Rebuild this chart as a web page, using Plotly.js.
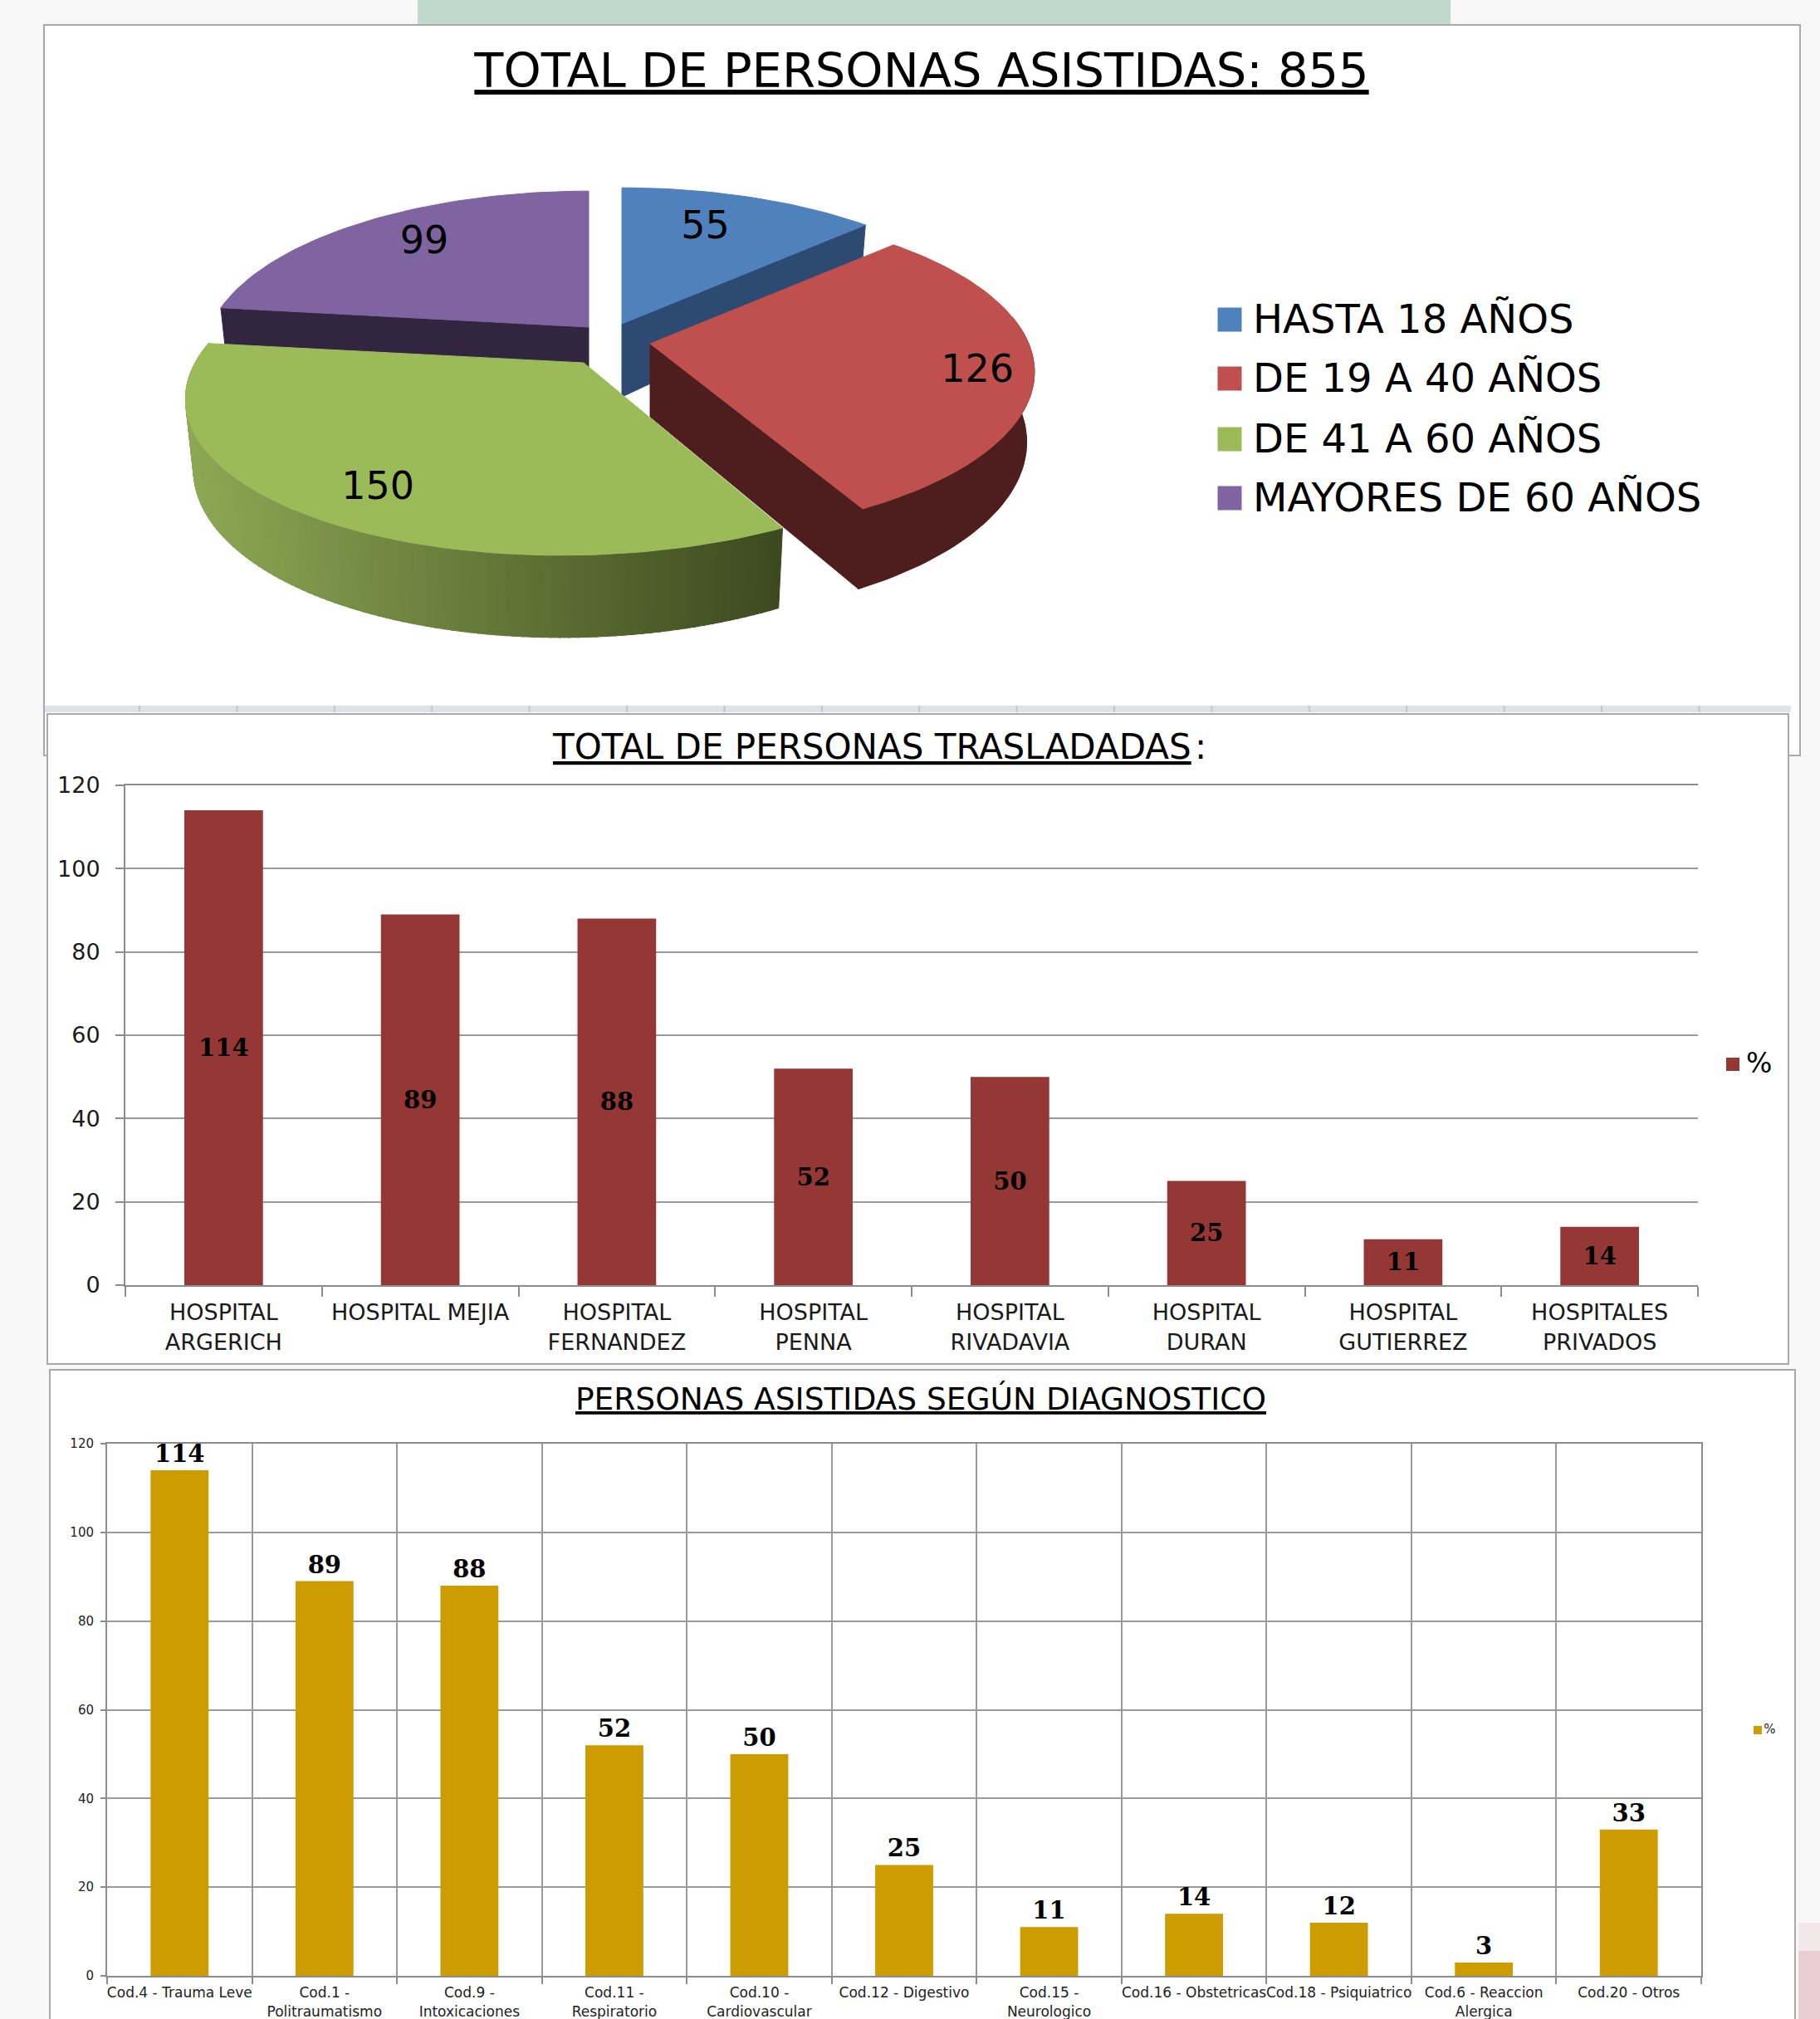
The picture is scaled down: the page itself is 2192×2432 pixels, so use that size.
<!DOCTYPE html>
<html>
<head>
<meta charset="utf-8">
<script src="https://cdn.plot.ly/plotly-3.0.1.min.js"></script>
<style>html,body{margin:0;padding:0;background:#f8f8f8}</style>
</head>
<body>
<div id="chart" style="width:2192px;height:2432px"></div>
<script>
// ---------- data ----------
const ageGroups = ['HASTA 18 AÑOS', 'DE 19 A 40 AÑOS', 'DE 41 A 60 AÑOS', 'MAYORES DE 60 AÑOS'];
const ageValues = [55, 126, 150, 99];
const hospitals = ['HOSPITAL<br>ARGERICH', 'HOSPITAL MEJIA', 'HOSPITAL<br>FERNANDEZ', 'HOSPITAL<br>PENNA',
  'HOSPITAL<br>RIVADAVIA', 'HOSPITAL<br>DURAN', 'HOSPITAL<br>GUTIERREZ', 'HOSPITALES<br>PRIVADOS'];
const hospitalValues = [114, 89, 88, 52, 50, 25, 11, 14];
const diagnoses = ['Cod.4 - Trauma Leve', 'Cod.1 -<br>Politraumatismo', 'Cod.9 -<br>Intoxicaciones', 'Cod.11 -<br>Respiratorio',
  'Cod.10 -<br>Cardiovascular', 'Cod.12 - Digestivo', 'Cod.15 -<br>Neurologico', 'Cod.16 - Obstetricas', 'Cod.18 - Psiquiatrico',
  'Cod.6 - Reaccion<br>Alergica', 'Cod.20 - Otros'];
const diagnosisValues = [114, 89, 88, 52, 50, 25, 11, 14, 12, 3, 33];
const yTicks = [0, 20, 40, 60, 80, 100, 120];

// ---------- page geometry ----------
const W = 2192, H = 2432;
const px = x => x / W, py = y => 1 - y / H;

// ---------- perspective pie geometry ----------
const pieColors = ['#4f81bd', '#c0504d', '#9bbb59', '#8064a2'];
const faceColors = ['#2c4a72', '#4e1d1d', null, '#32253f'];
const apexes = [[749, 390], [783, 414], [703, 437], [709, 394]];
const radii = [456, 456, 468, 456];
const shear = [0, 0, 22.5, 0];
const labelRadius = [0.66, 0.84, 0.83, 0.74];
const labelShift = [[-6, -9], [7, 9], [18, 3], [6, -3]];
const Ry = 192, persp = 0.172, depth = 82, apexDepth = 88, baseScale = 0.98;
const total = ageValues.reduce((a, b) => a + b, 0);
const bounds = [0];
ageValues.forEach(v => bounds.push(bounds[bounds.length - 1] + v / total * 360));

function project(i, deg, r) {
  const t = deg * Math.PI / 180, u = Math.sin(t) * r, v = Math.cos(t) * r, d = 1 + persp * v;
  return [apexes[i][0] + (radii[i] * u + shear[i] * v) / d, apexes[i][1] - Ry * v / d, depth / d];
}
function arc(i, a, b) {
  const pts = [], n = Math.max(2, Math.ceil(Math.abs(b - a) / 1.5));
  for (let k = 0; k <= n; k++) pts.push(project(i, a + (b - a) * k / n, 1));
  return pts;
}
const baseX = (i, x) => apexes[i][0] + (x - apexes[i][0]) * baseScale;
const poly = (xs, ys, color) => ({
  type: 'scatter', mode: 'lines', x: xs, y: ys, xaxis: 'x3', yaxis: 'y3', fill: 'toself', fillcolor: color,
  line: {color: color, width: 1}, showlegend: false, hoverinfo: 'skip'
});
function topTrace(i) {
  const a = arc(i, bounds[i], bounds[i + 1]), o = apexes[i];
  return poly([o[0], ...a.map(p => p[0]), o[0]], [o[1], ...a.map(p => p[1]), o[1]], pieColors[i]);
}
function faceTrace(i, deg) {
  const e = project(i, deg, 1), o = apexes[i];
  return poly([o[0], e[0], baseX(i, e[0]), o[0], o[0]], [o[1], e[1], e[1] + e[2], o[1] + apexDepth, o[1]], faceColors[i]);
}
function wallTrace(i, a, b, color) {
  const p = arc(i, a, b), r = p.slice().reverse();
  return poly([...p.map(q => q[0]), ...r.map(q => baseX(i, q[0])), p[0][0]],
              [...p.map(q => q[1]), ...r.map(q => q[1] + q[2]), p[0][1]], color);
}
function mix(c1, c2, f) {
  return 'rgb(' + c1.map((c, k) => Math.round(c + (c2[k] - c) * f)).join(',') + ')';
}
const pieTraces = [];
pieTraces.push(faceTrace(3, bounds[3]), topTrace(3));
pieTraces.push(faceTrace(0, bounds[1]), topTrace(0));
pieTraces.push(wallTrace(1, 80, bounds[2], faceColors[1]), faceTrace(1, bounds[2]), topTrace(1));
const steps = 110, gLeft = [141, 168, 84], gRight = [61, 74, 31];
for (let s = 0; s < steps; s++) {
  const a = bounds[2] + (bounds[3] - bounds[2]) * s / steps;
  const b = bounds[2] + (bounds[3] - bounds[2]) * (s + 1) / steps + 0.3;
  const xm = project(2, a, 1)[0];
  const f = Math.max(0, Math.min(1, (xm - 226) / (943 - 226)));
  pieTraces.push(wallTrace(2, a, b, mix(gLeft, gRight, f)));
}
pieTraces.push(topTrace(2));

// slice value labels
const lab = ageValues.map((v, i) => project(i, (bounds[i] + bounds[i + 1]) / 2, labelRadius[i]));
pieTraces.push({
  type: 'scatter', mode: 'text', x: lab.map((p, i) => p[0] + labelShift[i][0]), y: lab.map((p, i) => p[1] + labelShift[i][1]),
  text: ageValues.map(String), textposition: 'middle center', textfont: {family: 'DejaVu Sans', size: 46, color: '#000'},
  xaxis: 'x3', yaxis: 'y3', showlegend: false, hoverinfo: 'skip'
});

// legends
const legendYs = [385, 456, 529, 600];
const legendTextYs = [389, 460, 533, 604];
const legendTraces = [
  {type: 'scatter', mode: 'markers', x: ageGroups.map(() => 1481), y: legendYs,
   marker: {symbol: 'square', size: 29, color: pieColors}, xaxis: 'x3', yaxis: 'y3', showlegend: false, hoverinfo: 'skip'},
  {type: 'scatter', mode: 'text', x: ageGroups.map(() => 1509), y: legendTextYs, text: ageGroups, textposition: 'middle right',
   textfont: {family: 'DejaVu Sans', size: 48, color: '#000'}, xaxis: 'x3', yaxis: 'y3', showlegend: false, hoverinfo: 'skip'},
  {type: 'scatter', mode: 'markers', x: [2087], y: [1282], marker: {symbol: 'square', size: 16, color: '#953735'},
   xaxis: 'x3', yaxis: 'y3', showlegend: false, hoverinfo: 'skip'},
  {type: 'scatter', mode: 'text', x: [2103], y: [1284], text: ['%'], textposition: 'middle right',
   textfont: {family: 'DejaVu Sans', size: 33, color: '#000'}, xaxis: 'x3', yaxis: 'y3', showlegend: false, hoverinfo: 'skip'},
  {type: 'scatter', mode: 'markers+text', x: [2117], y: [2084], text: ['%'], textposition: 'middle right',
   marker: {symbol: 'square', size: 10, color: '#cc9c00'}, textfont: {family: 'DejaVu Sans', size: 15, color: '#222'},
   xaxis: 'x3', yaxis: 'y3', showlegend: false, hoverinfo: 'skip'}
];

// ---------- bar charts ----------
const barLabelFont = {family: 'DejaVu Serif', size: 29, color: '#000', weight: 700};
const barHospital = {
  type: 'bar', x: hospitals, y: hospitalValues, text: hospitalValues.map(String), textposition: 'inside',
  insidetextanchor: 'middle', textangle: 0, constraintext: 'none', textfont: barLabelFont,
  marker: {color: '#953735'}, xaxis: 'x', yaxis: 'y', showlegend: false, hoverinfo: 'skip'
};
const barDiagnosis = {
  type: 'bar', x: diagnoses, y: diagnosisValues, text: diagnosisValues.map(String), textposition: 'outside',
  textangle: 0, constraintext: 'none', cliponaxis: false, textfont: barLabelFont,
  marker: {color: '#cc9c00'}, xaxis: 'x2', yaxis: 'y2', showlegend: false, hoverinfo: 'skip'
};

// ---------- panels ----------
const border = '#a9a9a9';
const rect = (x0, y0, x1, y1, fill, line) => ({
  type: 'rect', xref: 'paper', yref: 'paper', layer: 'below',
  x0: px(x0), x1: px(x1), y0: py(y0), y1: py(y1), fillcolor: fill,
  line: line ? {color: line, width: 2} : {width: 0}
});
const shapes = [
  rect(503, 0, 1747, 30, '#c1d9cc'),
  rect(2166, 2316, 2192, 2350, '#f3e8e9'),
  rect(2166, 2350, 2192, 2432, '#e9cfd3'),
  rect(53, 30, 2168, 910, '#ffffff', border),
  rect(54, 850, 2157, 858, '#dfe3e8'),
  rect(57, 860, 2154, 1643, '#ffffff', border),
  rect(60, 1650, 2162, 2450, '#ffffff', border)
];
for (let x = 168; x < 2157; x += 117.4) shapes.push(rect(x - 1, 850, x + 1, 858, '#c2c6cb'));

// ---------- titles ----------
const titleFont = size => ({family: 'DejaVu Sans', size: size, color: '#000', lineposition: 'under'});
const annotations = [
  {xref: 'paper', yref: 'paper', x: px(1437), y: py(899), xanchor: 'right', yanchor: 'middle', showarrow: false,
   text: 'TOTAL DE PERSONAS TRASLADADAS', font: titleFont(42)},
  {xref: 'paper', yref: 'paper', x: px(1437), y: py(899), xanchor: 'left', yanchor: 'middle', showarrow: false,
   text: ':', font: {family: 'DejaVu Sans', size: 42, color: '#000'}},
  {xref: 'paper', yref: 'paper', x: px(1109), y: py(1685), xanchor: 'center', yanchor: 'middle', showarrow: false,
   text: 'PERSONAS ASISTIDAS SEGÚN DIAGNOSTICO', font: titleFont(37.5)}
];

const axisColor = '#8c8c8c';
const layout = {
  width: W, height: H, margin: {l: 0, r: 0, t: 0, b: 0},
  paper_bgcolor: '#f8f8f8', plot_bgcolor: 'rgba(0,0,0,0)', showlegend: false, bargap: 0.6,
  title: {text: 'TOTAL DE PERSONAS ASISTIDAS: 855', x: px(1110), y: py(85), xref: 'paper', yref: 'paper',
          xanchor: 'center', yanchor: 'middle', font: titleFont(57.5)},
  xaxis: {domain: [px(151), px(2045)], anchor: 'y', type: 'category', tickson: 'boundaries', ticks: 'outside', ticklen: 12,
          tickcolor: axisColor, tickwidth: 2, showline: true, mirror: true, linecolor: axisColor, linewidth: 2, showgrid: false,
          ticklabelstandoff: 8, tickangle: 0, automargin: false, tickfont: {family: 'DejaVu Sans', size: 27, color: '#1a1a1a'}},
  yaxis: {domain: [py(1548), py(946)], anchor: 'x', range: [0, 120], tickvals: yTicks, ticks: 'outside', ticklen: 10,
          tickcolor: axisColor, tickwidth: 2, showline: true, linecolor: axisColor, linewidth: 2, gridcolor: '#9a9a9a', gridwidth: 2,
          zeroline: false, automargin: false, ticklabelstandoff: 13, tickfont: {family: 'DejaVu Sans', size: 27, color: '#1a1a1a'}},
  xaxis2: {domain: [px(129), px(2049)], anchor: 'y2', type: 'category', tickson: 'boundaries', ticks: 'outside', ticklen: 8,
           tickcolor: axisColor, tickwidth: 2, showline: true, mirror: true, linecolor: axisColor, linewidth: 2, showgrid: true, gridcolor: '#9a9a9a', gridwidth: 2,
           ticklabelstandoff: 4, tickangle: 0, automargin: false, tickfont: {family: 'DejaVu Sans', size: 17, color: '#222'}},
  yaxis2: {domain: [py(2380), py(1739)], anchor: 'x2', range: [0, 120], tickvals: yTicks, ticks: 'outside', ticklen: 6,
           tickcolor: axisColor, tickwidth: 2, showline: true, mirror: true, linecolor: axisColor, linewidth: 2, gridcolor: '#9a9a9a', gridwidth: 2,
           zeroline: false, automargin: false, ticklabelstandoff: 5, tickfont: {family: 'DejaVu Sans', size: 15, color: '#222'}},
  xaxis3: {domain: [0, 1], anchor: 'y3', range: [0, W], visible: false, fixedrange: true},
  yaxis3: {domain: [0, 1], anchor: 'x3', range: [H, 0], visible: false, fixedrange: true},
  shapes: shapes,
  annotations: annotations
};

Plotly.newPlot('chart', [barHospital, barDiagnosis, ...pieTraces, ...legendTraces], layout,
  {displayModeBar: false, staticPlot: true, responsive: false});
</script>
</body>
</html>
